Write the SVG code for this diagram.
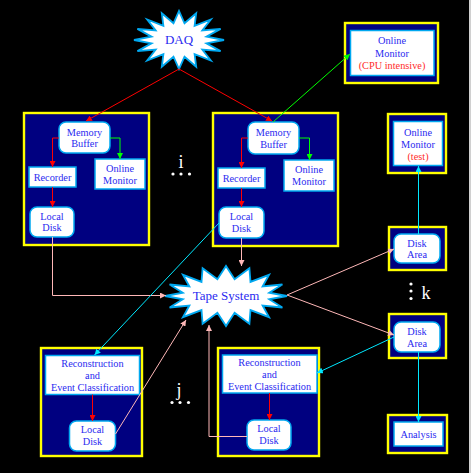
<svg xmlns="http://www.w3.org/2000/svg" width="471" height="473" viewBox="0 0 471 473">
<style>
.bg{fill:#000}
.cont{fill:#000080;stroke:#ffff00;stroke-width:2.4}
.box{fill:#fff;stroke:#00a8f0;stroke-width:1.5}
.star{fill:#fff;stroke:#00a8f0;stroke-width:1.8;stroke-linejoin:miter}
text{font-family:"Liberation Serif","Times New Roman",serif;text-anchor:middle}
.t{font-size:10.3px;fill:#2a2af0}
.tr{font-size:10.3px;fill:#ff2a2a}
.big{font-size:13px;fill:#2a2af0}
.w{font-size:18px;fill:#fff}
.c{fill:none;stroke-width:1}
.red{stroke:#ff0000}
.grn{stroke:#00ff00}
.cyn{stroke:#00e8ff}
.pnk{stroke:#ffb8b8}
</style>
<defs>
<marker id="aR" markerUnits="userSpaceOnUse" markerWidth="6" markerHeight="6" refX="6" refY="3" orient="auto"><path d="M0,0L6,3L0,6z" fill="#ff0000"/></marker>
<marker id="aG" markerUnits="userSpaceOnUse" markerWidth="6" markerHeight="6" refX="6" refY="3" orient="auto"><path d="M0,0L6,3L0,6z" fill="#00ff00"/></marker>
<marker id="aC" markerUnits="userSpaceOnUse" markerWidth="6" markerHeight="6" refX="6" refY="3" orient="auto"><path d="M0,0L6,3L0,6z" fill="#00e8ff"/></marker>
<marker id="aP" markerUnits="userSpaceOnUse" markerWidth="6" markerHeight="6" refX="6" refY="3" orient="auto"><path d="M0,0L6,3L0,6z" fill="#ffb8b8"/></marker>
</defs>
<rect class="bg" x="0" y="0" width="471" height="473"/>
<rect x="469" y="0" width="2" height="473" fill="#d0d0d0"/>

<g id="daq">
<polygon class="star" points="224,40 206.5,43.3 220.6,51.1 202.3,49.5 210.8,60.5 194.6,54.1 196.2,66.8 184.5,56.7 179,69 173.5,56.7 161.8,66.8 163.4,54.1 147.2,60.5 155.7,49.5 137.4,51.1 151.5,43.3 134,40 151.5,36.7 137.4,28.9 155.7,30.5 147.2,19.5 163.4,25.9 161.8,13.2 173.5,23.3 179,11 184.5,23.3 196.2,13.2 194.6,25.9 210.8,19.5 202.3,30.5 220.6,28.9 206.5,36.7"/>
<text class="big" x="179" y="44">DAQ</text>
</g>

<g id="tape">
<polygon class="star" points="287,296 269.2,299.3 282.4,307.5 262.6,305.5 269.1,317.2 250.5,310.1 249.4,323.7 234.6,312.7 226,326 217.4,312.7 202.6,323.7 201.5,310.1 182.9,317.2 189.4,305.5 169.6,307.5 182.8,299.3 165,296 182.8,292.7 169.6,284.5 189.4,286.5 182.9,274.8 201.5,281.9 202.6,268.3 217.4,279.3 226,266 234.6,279.3 249.4,268.3 250.5,281.9 269.1,274.8 262.6,286.5 282.4,284.5 269.2,292.7"/>
<text class="big" x="226" y="300">Tape System</text>
</g>

<g id="farm1">
<rect class="cont" x="24" y="113" width="125" height="132"/>
<g id="mb1"><rect class="box" x="59" y="122" width="51" height="31" rx="7"/><text class="t" x="84.5" y="135.5">Memory</text><text class="t" x="84.5" y="147">Buffer</text></g>
<g id="rec1"><rect class="box" x="29" y="167" width="47" height="20"/><text class="t" x="52.5" y="180.5">Recorder</text></g>
<g id="om1"><rect class="box" x="95" y="159" width="50" height="30"/><text class="t" x="120" y="172">Online</text><text class="t" x="120" y="184">Monitor</text></g>
<g id="ld1"><rect class="box" x="30" y="207" width="44" height="30" rx="7"/><text class="t" x="52" y="219.5">Local</text><text class="t" x="52" y="231">Disk</text></g>
</g>

<g id="farm2">
<rect class="cont" x="213" y="113" width="125" height="133"/>
<g id="mb2"><rect class="box" x="248" y="122" width="51" height="32" rx="7"/><text class="t" x="273.5" y="136">Memory</text><text class="t" x="273.5" y="147.5">Buffer</text></g>
<g id="rec2"><rect class="box" x="218" y="168" width="47" height="20"/><text class="t" x="241.5" y="181.5">Recorder</text></g>
<g id="om2"><rect class="box" x="284" y="160" width="50" height="31"/><text class="t" x="309" y="173">Online</text><text class="t" x="309" y="185">Monitor</text></g>
<g id="ld2"><rect class="box" x="219" y="207" width="45" height="31" rx="7"/><text class="t" x="241.5" y="220">Local</text><text class="t" x="241.5" y="231.5">Disk</text></g>
</g>

<g id="omcpu">
<rect class="cont" x="345" y="23" width="93" height="60"/>
<rect class="box" x="350.5" y="30.5" width="83.5" height="45"/>
<text class="t" x="392" y="44">Online</text>
<text class="t" x="392" y="56.5">Monitor</text>
<text class="tr" x="392" y="69">(CPU intensive)</text>
</g>

<g id="omtest">
<rect class="cont" x="388" y="114" width="58" height="59"/>
<rect class="box" x="393.5" y="121.5" width="49" height="44"/>
<text class="t" x="418" y="135.5">Online</text>
<text class="t" x="418" y="147.5">Monitor</text>
<text class="tr" x="418" y="160">(test)</text>
</g>

<g id="da1">
<rect class="cont" x="389" y="227" width="57" height="43"/>
<rect class="box" x="394" y="234" width="46" height="29" rx="7"/>
<text class="t" x="417" y="246.5">Disk</text>
<text class="t" x="417" y="258">Area</text>
</g>

<g id="da2">
<rect class="cont" x="389" y="314" width="57" height="44"/>
<rect class="box" x="394" y="322" width="46" height="30" rx="7"/>
<text class="t" x="417" y="334.5">Disk</text>
<text class="t" x="417" y="346.5">Area</text>
</g>

<g id="analysis">
<rect class="cont" x="388" y="415" width="59" height="38"/>
<rect class="box" x="394" y="422" width="49" height="24"/>
<text class="t" x="418.5" y="437.5">Analysis</text>
</g>

<g id="farm3">
<rect class="cont" x="41" y="348" width="101" height="108"/>
<g id="rc1"><rect class="box" x="45.5" y="355.5" width="94" height="39"/><text class="t" x="92.5" y="366.5">Reconstruction</text><text class="t" x="92.5" y="378.5">and</text><text class="t" x="92.5" y="391">Event Classification</text></g>
<g id="ld3"><rect class="box" x="69.5" y="421" width="46" height="30" rx="7"/><text class="t" x="92.5" y="433">Local</text><text class="t" x="92.5" y="444.5">Disk</text></g>
</g>

<g id="farm4">
<rect class="cont" x="218" y="348" width="101" height="108"/>
<g id="rc2"><rect class="box" x="222.5" y="355" width="94.5" height="38"/><text class="t" x="269.5" y="365.5">Reconstruction</text><text class="t" x="269.5" y="377.5">and</text><text class="t" x="269.5" y="390">Event Classification</text></g>
<g id="ld4"><rect class="box" x="247" y="420" width="44" height="30" rx="7"/><text class="t" x="269" y="432">Local</text><text class="t" x="269" y="444">Disk</text></g>
</g>

<g id="labels">
<text class="w" x="181" y="168">i</text>
<circle cx="173" cy="174" r="1.6" fill="#fff"/><circle cx="181" cy="174" r="1.6" fill="#fff"/><circle cx="189.5" cy="174" r="1.6" fill="#fff"/>
<text class="w" x="179" y="396">j</text>
<circle cx="172" cy="402.5" r="1.6" fill="#fff"/><circle cx="180" cy="402.5" r="1.6" fill="#fff"/><circle cx="188.5" cy="402.5" r="1.6" fill="#fff"/>
<text class="w" x="426" y="299">k</text>
<circle cx="411" cy="284" r="1.6" fill="#fff"/><circle cx="411" cy="291" r="1.6" fill="#fff"/><circle cx="411" cy="298.5" r="1.6" fill="#fff"/>
</g>

<g id="connectors">
<line class="c red" x1="179" y1="69" x2="86" y2="121" marker-end="url(#aR)"/>
<line class="c red" x1="179" y1="69" x2="272" y2="121" marker-end="url(#aR)"/>
<line class="c grn" x1="273" y1="122" x2="350" y2="54" marker-end="url(#aG)"/>
<polyline class="c red" points="59,138 52.5,138 52.5,167" marker-end="url(#aR)"/>
<polyline class="c grn" points="110,138 120,138 120,159" marker-end="url(#aG)"/>
<line class="c red" x1="52.5" y1="187" x2="52.5" y2="207" marker-end="url(#aR)"/>
<polyline class="c red" points="248,138 241.5,138 241.5,168" marker-end="url(#aR)"/>
<polyline class="c grn" points="299,138 309.5,138 309.5,160" marker-end="url(#aG)"/>
<line class="c red" x1="241.5" y1="188" x2="241.5" y2="207" marker-end="url(#aR)"/>
<polyline class="c pnk" points="52.5,237 52.5,295.5 166,295.5" marker-end="url(#aP)"/>
<line class="c pnk" x1="241.5" y1="238" x2="241.5" y2="266" marker-end="url(#aP)"/>
<line class="c cyn" x1="219" y1="223" x2="94.5" y2="355" marker-end="url(#aC)"/>
<line class="c pnk" x1="287" y1="295" x2="394" y2="249" marker-end="url(#aP)"/>
<line class="c pnk" x1="287" y1="295" x2="394" y2="335" marker-end="url(#aP)"/>
<line class="c cyn" x1="394" y1="337" x2="317" y2="373" marker-end="url(#aC)"/>
<line class="c cyn" x1="418.5" y1="234" x2="418.5" y2="166" marker-end="url(#aC)"/>
<line class="c cyn" x1="418.5" y1="352" x2="418.5" y2="422" marker-end="url(#aC)"/>
<line class="c red" x1="92.5" y1="394.5" x2="92.5" y2="421" marker-end="url(#aR)"/>
<line class="c pnk" x1="115.5" y1="434" x2="186" y2="320" marker-end="url(#aP)"/>
<line class="c red" x1="269.5" y1="393" x2="269.5" y2="420" marker-end="url(#aR)"/>
<polyline class="c pnk" points="247,436.5 209,436.5 209,325" marker-end="url(#aP)"/>
</g>
</svg>
